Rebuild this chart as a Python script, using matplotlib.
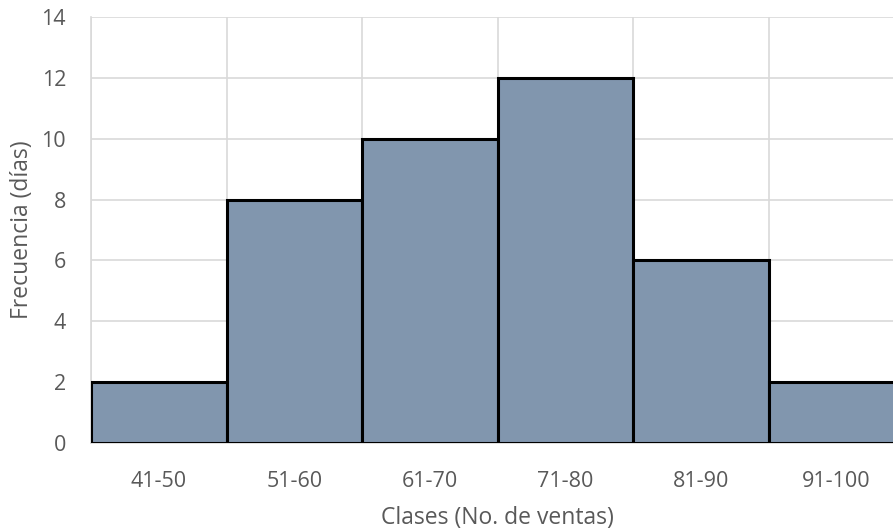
import matplotlib
matplotlib.use("Agg")
import matplotlib.pyplot as plt
import numpy as np

clases = ["41-50", "51-60", "61-70", "71-80", "81-90", "91-100"]
frecuencia = [2, 8, 10, 12, 6, 2]

plt.rcParams["font.family"] = ["Open Sans", "DejaVu Sans"]

fig = plt.figure(figsize=(8.93, 5.29), dpi=100)
ax = fig.add_axes([91 / 893, 86 / 529, 813 / 893, 426 / 529])

x = np.arange(len(clases))
ax.bar(x, frecuencia, width=1.0, color="#8196AE", edgecolor="black",
       linewidth=2.2, zorder=3)

ax.set_xlim(-0.5, len(clases) - 0.5)
ax.set_ylim(0, 14)
ax.set_yticks(range(0, 15, 2))
ax.set_xticks(x)
ax.set_xticklabels(clases)
ax.set_xticks(np.arange(-0.5, len(clases) + 0.5, 1), minor=True)

ax.grid(axis="y", which="major", color="#d9d9d9", linewidth=1.2, zorder=0)
ax.grid(axis="x", which="minor", color="#d9d9d9", linewidth=1.2, zorder=0)

for side in ["top", "right"]:
    ax.spines[side].set_visible(False)
ax.spines["left"].set_color("#d9d9d9")
ax.spines["left"].set_linewidth(1.2)
ax.spines["bottom"].set_color("#d9d9d9")
ax.spines["bottom"].set_linewidth(1.2)

ax.tick_params(axis="both", which="both", length=0, labelsize=15.5,
               labelcolor="#595959")
ax.tick_params(axis="y", pad=18)
ax.tick_params(axis="x", pad=20)

ax.set_xlabel("Clases (No. de ventas)", fontsize=16.5, color="#595959", labelpad=10)
ax.set_ylabel("Frecuencia (días)", fontsize=16.5, color="#595959", labelpad=5)

fig.savefig("out.png", dpi=100)
